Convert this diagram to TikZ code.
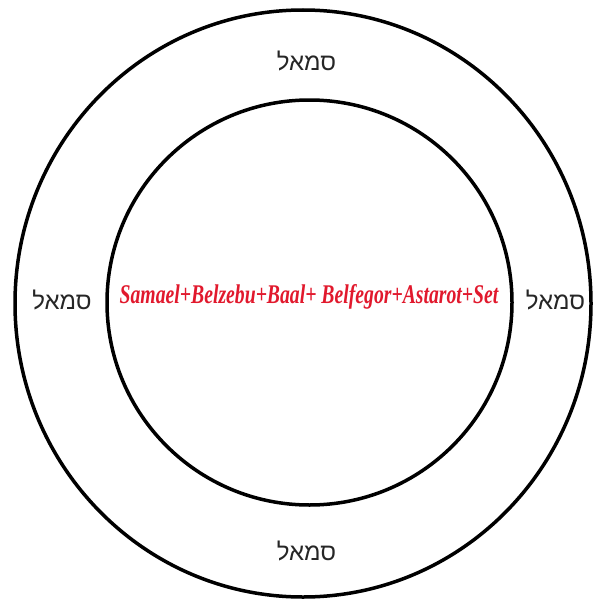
\documentclass[tikz,border=0pt]{standalone}
\usepackage{fontspec}
\setmainfont{Liberation Serif}
\newfontfamily\hebfont[Script=Hebrew]{Liberation Sans}
\TeXXeTstate=1
\definecolor{namered}{RGB}{225,25,45}
\begin{document}
\begin{tikzpicture}[x=1pt,y=-1pt,
  ring/.style={draw=black,line width=3.5pt},
  heb/.style={font=\hebfont\fontsize{24}{24}\selectfont,text=black!85,inner sep=0pt},
  names/.style={font=\bfseries\itshape\fontsize{27}{27}\selectfont,text=namered,inner sep=0pt}]
\useasboundingbox (0,0) rectangle (592,602);
\draw[ring] (303,303.5) ellipse [x radius=288,y radius=293.5];
\draw[ring] (309.5,302.5) ellipse [x radius=202.5,y radius=202.5];
\node[heb] (top) at (306.5,61) {\beginR סמאל\endR};
\node[heb] (bottom) at (306.5,551) {\beginR סמאל\endR};
\node[heb] (left) at (62,300) {\beginR סמאל\endR};
\node[heb] (right) at (555.5,300) {\beginR סמאל\endR};
\node[names,xscale=0.73] (center) at (309,297) {Samael+Belzebu+Baal+ Belfegor+Astarot+Set};
\end{tikzpicture}
\end{document}
